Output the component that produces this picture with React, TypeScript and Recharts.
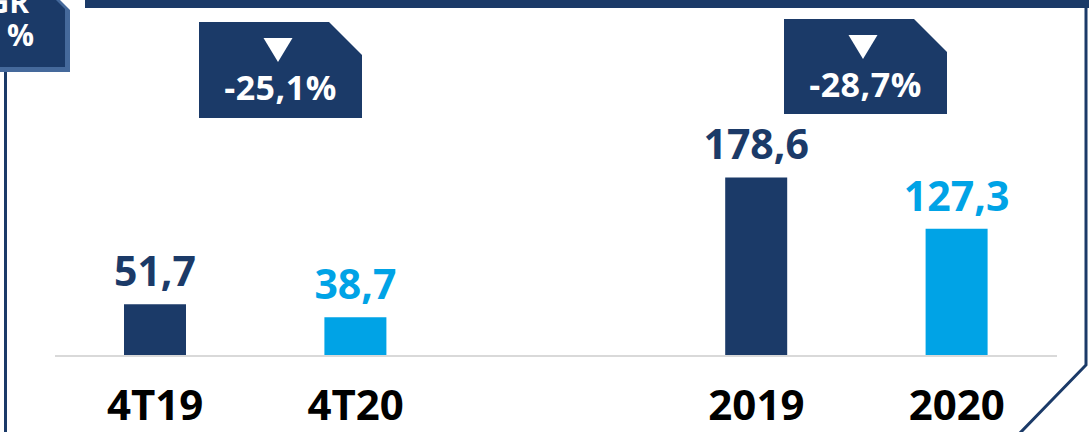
import { BarChart, Bar, XAxis, YAxis, Cell, LabelList } from 'recharts';

const NAVY = '#1b3a68';
const LIGHT = '#00a3e6';
const BORDER_LIGHT = '#45699b';
const FONT = '"Open Sans", "DejaVu Sans", sans-serif';

// periods (empty slot separates quarter vs full year)
const categories = ['4T19', '4T20', '', '2019', '2020'];
const values = [51.7, 38.7, null, 178.6, 127.3];
const barColors = [NAVY, LIGHT, NAVY, NAVY, LIGHT];

const data = categories.map((name, i) => ({ name, value: values[i] }));

const fmt = (v: number) => v.toFixed(1).replace('.', ',');
const change = (a: number, b: number) => fmt((b / a - 1) * 100) + '%';

const qChange = change(values[0] as number, values[1] as number);
const yChange = change(values[3] as number, values[4] as number);

function ValueLabel(props: any) {
  const { x, y, width, value } = props;
  if (value == null) return null;
  const color = barColors[values.indexOf(value)] || NAVY;
  return (
    <text
      x={x + width / 2}
      y={y - 18}
      textAnchor="middle"
      fill={color}
      fontFamily={FONT}
      fontWeight={700}
      fontSize={41}
    >
      {fmt(value)}
    </text>
  );
}

function Tick(props: any) {
  const { x, y, payload } = props;
  return (
    <text x={x} y={y + 64} textAnchor="middle" fill="#000" fontFamily={FONT} fontWeight={700} fontSize={42}>
      {payload.value}
    </text>
  );
}

// callout box with folded corner, arrow and % change
function ChangeBox({ x, y, w, h, label }: { x: number; y: number; w: number; h: number; label: string }) {
  const cut = 33;
  const cx = x + w / 2;
  return (
    <g>
      <polygon points={`${x},${y} ${x + w - cut},${y} ${x + w},${y + cut} ${x + w},${y + h} ${x},${y + h}`} fill={NAVY} />
      <polygon points={`${cx - 17},${y + 16} ${cx + 12},${y + 16} ${cx - 2.5},${y + 40}`} fill="#fff" />
      <text x={cx} y={y + 78} textAnchor="middle" fill="#fff" fontFamily={FONT} fontWeight={700} fontSize={34} letterSpacing={0.5}>
        {label}
      </text>
    </g>
  );
}

export default function App() {
  return (
    <div style={{ position: 'absolute', left: 0, top: 0, width: 1089, height: 432, overflow: 'hidden', background: '#fff' }}>
      <BarChart
        width={1089}
        height={432}
        data={data}
        margin={{ top: 156, right: 32, bottom: 0, left: 55 }}
        barSize={62}
      >
        <XAxis
          dataKey="name"
          height={76}
          tickLine={false}
          tickSize={0}
          tickMargin={0}
          axisLine={{ stroke: '#d9d9d9', strokeWidth: 2 }}
          tick={<Tick />}
          interval={0}
        />
        <YAxis hide domain={[0, 200]} />
        <Bar dataKey="value" isAnimationActive={false}>
          {data.map((d, i) => (
            <Cell key={i} fill={barColors[i]} />
          ))}
          <LabelList dataKey="value" content={<ValueLabel />} />
        </Bar>
      </BarChart>
      <svg width={1089} height={432} style={{ position: 'absolute', left: 0, top: 0, pointerEvents: 'none' }}>
        {/* frame */}
        <rect x={85} y={0} width={1004} height={8} fill={NAVY} />
        <polyline points="1086,6 1086,365 1019,434" fill="none" stroke={NAVY} strokeWidth={3} />
        <line x1={5.5} y1={68} x2={5.5} y2={432} stroke={NAVY} strokeWidth={3} />
        {/* cropped CAGR tag */}
        <polygon points="-5,0 60,0 70,10 70,72 -5,72" fill={BORDER_LIGHT} />
        <polygon points="-5,0 56,0 65,9 65,67 -5,67" fill={NAVY} />
        <text x={29} y={13} textAnchor="end" fill="#fff" fontFamily={FONT} fontWeight={700} fontSize={30}>CAGR</text>
        <text x={34} y={46} textAnchor="end" fill="#fff" fontFamily={FONT} fontWeight={700} fontSize={30}>%</text>
        <ChangeBox x={199} y={22} w={163} h={96} label={qChange} />
        <ChangeBox x={784} y={19} w={163} h={95} label={yChange} />
      </svg>
    </div>
  );
}
